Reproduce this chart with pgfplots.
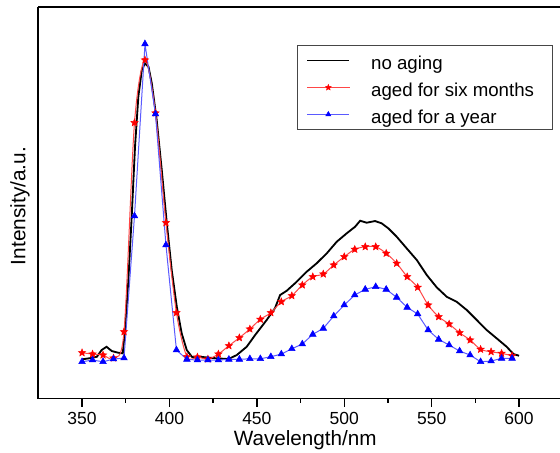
\documentclass[border=0pt]{standalone}
\usepackage{fontspec}
\setmainfont{Liberation Sans}
\usepackage{pgfplots}
\pgfplotsset{compat=1.18}
\definecolor{lineRed}{RGB}{255,70,70}
\definecolor{lineBlue}{RGB}{90,90,255}
\definecolor{boxGrey}{RGB}{70,70,70}

% filled five-pointed star
\pgfdeclareplotmark{fstar}{%
  \pgfpathmoveto{\pgfpointpolar{90}{\pgfplotmarksize}}%
  \pgfpathlineto{\pgfpointpolar{126}{0.45\pgfplotmarksize}}%
  \pgfpathlineto{\pgfpointpolar{162}{\pgfplotmarksize}}%
  \pgfpathlineto{\pgfpointpolar{198}{0.45\pgfplotmarksize}}%
  \pgfpathlineto{\pgfpointpolar{234}{\pgfplotmarksize}}%
  \pgfpathlineto{\pgfpointpolar{270}{0.45\pgfplotmarksize}}%
  \pgfpathlineto{\pgfpointpolar{306}{\pgfplotmarksize}}%
  \pgfpathlineto{\pgfpointpolar{342}{0.45\pgfplotmarksize}}%
  \pgfpathlineto{\pgfpointpolar{18}{\pgfplotmarksize}}%
  \pgfpathlineto{\pgfpointpolar{54}{0.45\pgfplotmarksize}}%
  \pgfpathclose\pgfusepathqfillstroke}

\begin{document}
\begin{tikzpicture}
\begin{axis}[
  name=ax,
  scale only axis,
  width=313.8pt, height=235pt,
  xmin=324.8, xmax=624,
  ymin=1.4, ymax=393,
  axis x line*=box, axis y line*=left,
  axis line style={black,line width=1pt},
  xtick={350,400,...,600},
  minor x tick num=1,
  xtick pos=lower,
  ytick=\empty,
  tick align=outside,
  major tick length=5pt, minor tick length=2.5pt,
  tick style={black,line width=0.8pt},
  /pgf/number format/assume math mode=true,
  xticklabel style={font=\fontsize{10.5}{12}\selectfont,inner sep=0pt,yshift=-3pt},
  xlabel={Wavelength/nm},
  xlabel style={font=\fontsize{12.4}{14}\selectfont,at={(axis description cs:0.511,-0.106)},anchor=center},
  ylabel={Intensity/a.u.},
  ylabel style={font=\fontsize{12.5}{14}\selectfont,at={(axis description cs:-0.0344,0.492)},anchor=center},
  clip=true,
  legend style={at={(0.495,0.903)},anchor=north west,draw=boxGrey,line width=0.6pt,
    font=\fontsize{11.2}{13}\selectfont,row sep=2.4pt,inner xsep=5.5pt,inner ysep=2.1pt,
    nodes={inner ysep=1.5pt,text height=10.8pt,text depth=0pt},
    /tikz/every odd column/.append style={column sep=10.6pt}},
  legend cell align=left,
  legend image code/.code={\draw[mark repeat=2,mark phase=2,#1,mark size=1.8pt] plot coordinates {(0cm,0cm) (0.44cm,0cm) (0.88cm,0cm)};},
]
% no aging
\addplot[black,line width=1.1pt] coordinates {
(350,40.7) (355,42) (358.5,43.3) (361.2,50) (364,53.3) (367,49) (370.8,47.3) (373.3,46.7)
(374.6,70) (376.5,120) (378.4,183.3) (380.3,253.3) (382.2,303.3) (384.2,330) (386,336.7)
(388,333.3) (389.9,316.7) (392.7,280) (395.6,230) (398.5,176.7) (401.3,130) (404.2,93.3)
(407,66.7) (409.9,50) (412.8,43.3) (415.6,42) (417.5,43.3) (425,42) (433.7,41) (438.5,45)
(444.2,53.3) (449,65) (455.6,80) (460.4,92) (463.3,105) (467.1,109.3) (472.8,118.3)
(478.5,128.3) (484.2,136.7) (490,146.7) (495.7,158.3) (501.4,166.7) (506.2,173.3)
(509.1,179.3) (512.8,177.3) (517.6,179) (521.4,176.7) (525.2,171.7) (530,163.3)
(535.7,151.7) (541.5,140) (547.2,125) (552.9,112.7) (558.6,103.3) (564.3,98.3)
(570.1,90) (575.8,80) (581.5,70) (587.2,61.7) (592.9,53.3) (596.8,46) (600,44.3)
};
\addlegendentry{no aging}
% aged for six months
\addplot[lineRed,line width=0.6pt,smooth,tension=0.5,mark=fstar,mark size=2.3pt,
  mark options={red,solid,line width=0.3pt}] coordinates {
(350,47.3) (356,46) (362,45) (368,42) (374,68.3) (380,277.3) (386,340) (392,287)
(398,177.3) (404,87.3) (410,43.3) (416,43) (422,41) (428,46) (434,54.3) (440,62.3)
(446,71) (452,80.7) (458,87.3) (464,98.3) (470,104.3) (476,115) (482,123.3) (488,126)
(494,135) (500,143.3) (506,150.7) (512,153.3) (518,153.3) (524,146.7) (530,136.7)
(536,123.3) (542,112.7) (548,95) (554,83.3) (560,76) (566,67.3) (572,60) (578,50.7)
(584,48.3) (590,46.7) (596,44.3)
};
\addlegendentry{aged for six months\hspace*{3.8pt}}
% aged for a year
\addplot[lineBlue,line width=0.6pt,mark=triangle*,mark size=2.3pt,
  mark options={blue,solid,line width=0.3pt}] coordinates {
(350,38.3) (356,40) (362,38.3) (368,41) (374,42) (380,184) (386,356) (392,286) (398,155)
(404,50) (410,40.7) (416,40) (422,40) (428,40) (434,40.7) (440,40.7) (446,41.3) (452,41.3)
(458,43.3) (464,46) (470,51.3) (476,56) (482,65.7) (488,71.7) (494,84) (500,95) (506,105)
(512,110.7) (518,113.3) (524,110.7) (530,102.7) (536,92.7) (542,86) (548,70) (554,60.7)
(560,55) (566,49) (572,45) (578,38.3) (584,39) (590,41.7) (596,41.7)
};
\addlegendentry{aged for a year}
\end{axis}
\pgfresetboundingbox
\path (ax.south west) ++(-22.8pt,-32.6pt) rectangle ++(336pt,271.8pt);
\end{tikzpicture}
\end{document}
